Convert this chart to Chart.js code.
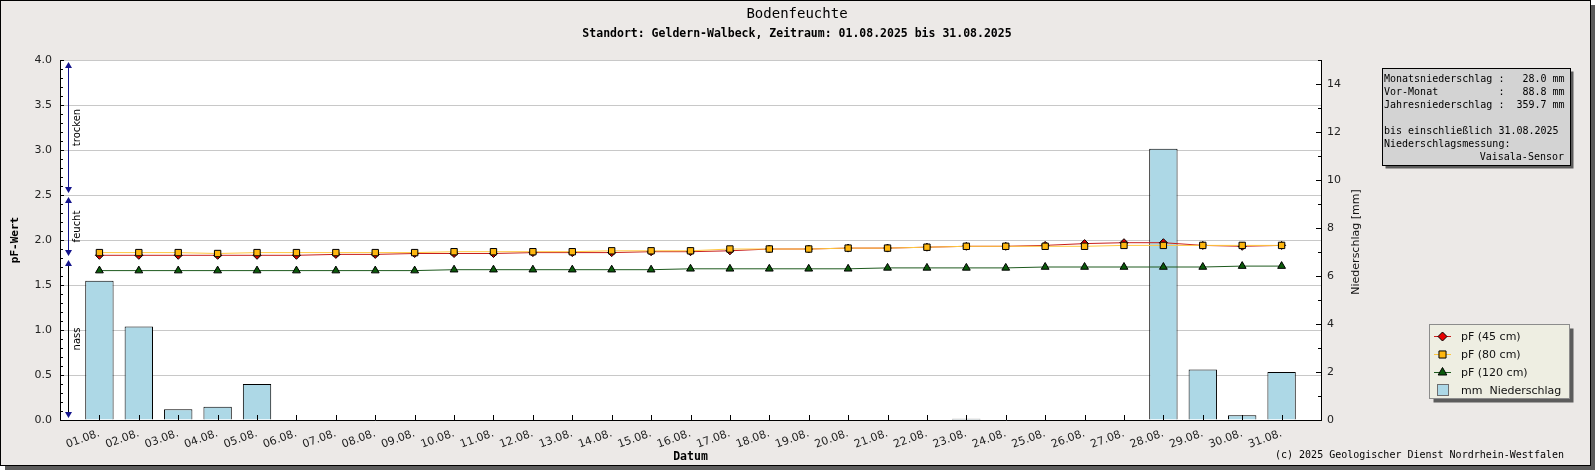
<!DOCTYPE html>
<html>
<head>
<meta charset="utf-8">
<title>Bodenfeuchte</title>
<script src="https://cdn.jsdelivr.net/npm/chart.js@4.4.1/dist/chart.umd.min.js"></script>
<style>
  html, body { margin: 0; padding: 0; background: #fff; }
</style>
</head>
<body>
<canvas id="bodenChart" width="1595" height="470"></canvas>
<script>
// Tage im August 2025
const days = ['01.08.', '02.08.', '03.08.', '04.08.', '05.08.', '06.08.', '07.08.', '08.08.',
  '09.08.', '10.08.', '11.08.', '12.08.', '13.08.', '14.08.', '15.08.', '16.08.', '17.08.',
  '18.08.', '19.08.', '20.08.', '21.08.', '22.08.', '23.08.', '24.08.', '25.08.', '26.08.',
  '27.08.', '28.08.', '29.08.', '30.08.', '31.08.'];

// pF-Werte je Tiefe
const pf45 = [1.83, 1.83, 1.83, 1.83, 1.83, 1.83, 1.84, 1.84, 1.85, 1.85, 1.85, 1.86, 1.86, 1.86,
  1.87, 1.87, 1.88, 1.90, 1.90, 1.91, 1.91, 1.92, 1.93, 1.93, 1.94, 1.96, 1.97, 1.97, 1.94, 1.93, 1.94];
const pf80 = [1.86, 1.86, 1.86, 1.85, 1.86, 1.86, 1.86, 1.86, 1.86, 1.87, 1.87, 1.87, 1.87, 1.88,
  1.88, 1.88, 1.90, 1.90, 1.90, 1.91, 1.91, 1.92, 1.93, 1.93, 1.93, 1.93, 1.94, 1.94, 1.94, 1.94, 1.94];
const pf120 = [1.66, 1.66, 1.66, 1.66, 1.66, 1.66, 1.66, 1.66, 1.66, 1.67, 1.67, 1.67, 1.67, 1.67,
  1.67, 1.68, 1.68, 1.68, 1.68, 1.68, 1.69, 1.69, 1.69, 1.69, 1.70, 1.70, 1.70, 1.70, 1.70, 1.71, 1.71];

// Tagesniederschlag in mm
const rain = [5.8, 3.9, 0.45, 0.55, 1.5, 0, 0, 0, 0, 0, 0, 0, 0, 0, 0, 0, 0, 0, 0, 0,
  0, 0, 0.05, 0, 0, 0, 0, 11.3, 2.1, 0.2, 2.0];

// Feuchtebereiche links an der Achse
const zones = [
  { label: 'trocken', from: 2.5, to: 4.0, line: '#14148c' },
  { label: 'feucht', from: 1.8, to: 2.5, line: '#14148c' },
  { label: 'nass', from: 0.0, to: 1.8, line: '#000000' }
];

const infoLines = [
  'Monatsniederschlag :   28.0 mm',
  'Vor-Monat          :   88.8 mm',
  'Jahresniederschlag :  359.7 mm',
  '',
  'bis einschließlich 31.08.2025',
  'Niederschlagsmessung:'
];
const infoLast = 'Vaisala-Sensor';

const pfMax = 4.0;
const rainMax = 15;

const MONO = '"DejaVu Sans Mono", monospace';
const SANS = '"DejaVu Sans", sans-serif';

// leere Kategorie vorn und hinten, damit der erste Tag einen vollen Abstand vom Rand hat
const labels = [''].concat(days, ['']);
const pad = arr => [null].concat(arr, [null]);

const decor = {
  id: 'decor',
  beforeDraw(chart) {
    const c = chart.ctx, a = chart.chartArea;
    c.save();
    c.fillStyle = '#ffffff';
    c.fillRect(0, 0, chart.width, chart.height);
    c.fillStyle = '#5c5c5c';
    c.fillRect(5, 5, 1590, 465);
    c.fillStyle = '#ece9e7';
    c.fillRect(0, 0, 1591, 466);
    c.strokeStyle = '#000';
    c.lineWidth = 1;
    c.strokeRect(0.5, 0.5, 1590, 465);
    c.fillStyle = '#ffffff';
    c.fillRect(a.left, a.top, a.right - a.left, a.bottom - a.top);
    c.restore();
  },
  afterDatasetsDraw(chart) {
    const c = chart.ctx, a = chart.chartArea;
    const x = chart.scales.x, y = chart.scales.y, y1 = chart.scales.y1;
    c.save();
    c.strokeStyle = '#000';
    c.lineWidth = 1;
    c.beginPath();
    days.forEach((d, i) => {
      const px = Math.round(x.getPixelForValue(i + 1)) + 0.5;
      c.moveTo(px, a.bottom);
      c.lineTo(px, a.bottom - 5);
    });
    for (let k = 0; k <= pfMax * 10; k++) {
      const py = Math.round(y.getPixelForValue(k / 10)) + 0.5;
      const len = k % 5 === 0 ? 4 : 3;
      c.moveTo(a.left, py);
      c.lineTo(a.left + len, py);
    }
    for (let k = 0; k <= rainMax; k++) {
      const py = Math.round(y1.getPixelForValue(k)) + 0.5;
      const len = k % 2 === 0 ? 5 : 3;
      c.moveTo(a.right, py);
      c.lineTo(a.right - len, py);
    }
    c.stroke();

    // Pfeile fuer die Feuchtebereiche
    const ax = a.left + 8.5;
    zones.forEach(z => {
      const yt = y.getPixelForValue(z.to) + 2;
      const yb = y.getPixelForValue(z.from) - 2;
      c.strokeStyle = z.line;
      c.beginPath();
      c.moveTo(ax, yt + 3);
      c.lineTo(ax, yb - 3);
      c.stroke();
      c.fillStyle = '#14148c';
      c.beginPath();
      c.moveTo(ax, yt); c.lineTo(ax - 3.5, yt + 6); c.lineTo(ax + 3.5, yt + 6); c.closePath();
      c.moveTo(ax, yb); c.lineTo(ax - 3.5, yb - 6); c.lineTo(ax + 3.5, yb - 6); c.closePath();
      c.fill();
      c.save();
      c.translate(ax + 8.5, (yt + yb) / 2);
      c.rotate(-Math.PI / 2);
      c.fillStyle = '#000';
      c.font = '10px ' + SANS;
      c.textAlign = 'center';
      c.textBaseline = 'middle';
      c.fillText(z.label, 0, 0);
      c.restore();
    });
    c.restore();
  },
  afterDraw(chart) {
    const c = chart.ctx, a = chart.chartArea;
    c.save();
    c.fillStyle = '#000';
    c.textBaseline = 'middle';

    // Titel
    c.textAlign = 'center';
    c.font = '14px ' + MONO;
    c.fillText('Bodenfeuchte', 797, 14);
    c.font = 'bold 11.5px ' + MONO;
    c.fillText('Standort: Geldern-Walbeck, Zeitraum: 01.08.2025 bis 31.08.2025', 797, 34);

    // Achsentitel
    c.fillText('Datum', (a.left + a.right) / 2, 457);
    c.save();
    c.translate(15, (a.top + a.bottom) / 2);
    c.rotate(-Math.PI / 2);
    c.font = 'bold 11px ' + MONO;
    c.fillText('pF-Wert', 0, 0);
    c.restore();
    c.save();
    c.translate(1356, 242);
    c.rotate(-Math.PI / 2);
    c.font = '11px ' + SANS;
    c.fillStyle = '#111';
    c.fillText('Niederschlag [mm]', 0, 0);
    c.restore();

    // Infobox
    const bx = 1382.5, by = 68.5, bw = 188, bh = 97;
    c.fillStyle = '#5c5c5c';
    c.fillRect(bx + 3, by + 3, bw, bh);
    c.fillStyle = '#d3d3d3';
    c.fillRect(bx, by, bw, bh);
    c.strokeStyle = '#000';
    c.strokeRect(bx, by, bw, bh);
    c.fillStyle = '#000';
    c.font = '10px ' + MONO;
    c.textAlign = 'left';
    infoLines.forEach((t, i) => c.fillText(t, 1384, 79.5 + i * 13));
    c.textAlign = 'right';
    c.fillText(infoLast, 1564, 79.5 + infoLines.length * 13);

    // Legende
    const lx = 1429.5, ly = 324.5, lw = 140, lh = 74;
    c.fillStyle = '#5c5c5c';
    c.fillRect(lx + 4, ly + 4, lw, lh);
    c.fillStyle = '#eeeee2';
    c.fillRect(lx, ly, lw, lh);
    c.strokeStyle = '#8c8c8c';
    c.strokeRect(lx, ly, lw, lh);
    c.font = '11px ' + SANS;
    c.textAlign = 'left';
    const order = [0, 1, 2, 3];
    order.forEach((di, row) => {
      const ds = chart.data.datasets[di];
      const ry = 336 + row * 18;
      if (ds.type === 'line') {
        c.strokeStyle = ds.borderColor;
        c.lineWidth = 1;
        c.beginPath();
        c.moveTo(1434, ry + 0.5);
        c.lineTo(1451, ry + 0.5);
        c.stroke();
        c.fillStyle = ds.pointBackgroundColor;
        c.strokeStyle = ds.pointBorderColor;
        Chart.helpers.drawPoint(c, { pointStyle: ds.pointStyle, radius: ds.pointRadius + 0.5, rotation: 0, borderWidth: 1 }, 1442.5, ry + 0.5);
      } else {
        c.fillStyle = ds.backgroundColor;
        c.fillRect(1437.5, ry - 5.5, 11, 11);
        c.strokeStyle = '#6e6e6e';
        c.strokeRect(1437.5, ry - 5.5, 11, 11);
      }
      c.fillStyle = '#111';
      c.fillText(ds.label, 1461, ry + 1);
    });

    // Quelle
    c.fillStyle = '#000';
    c.font = '10px ' + MONO;
    c.textAlign = 'left';
    c.fillText('(c) 2025 Geologischer Dienst Nordrhein-Westfalen', 1275, 455);
    c.restore();
  }
};

new Chart(document.getElementById('bodenChart').getContext('2d'), {
  type: 'bar',
  data: {
    labels: labels,
    datasets: [
      {
        type: 'line', label: 'pF (45 cm)', data: pad(pf45), yAxisID: 'y', order: 2,
        borderColor: '#c81e1e', borderWidth: 1, tension: 0,
        pointStyle: 'rectRot', pointRadius: 4, pointBackgroundColor: '#e60000',
        pointBorderColor: '#000', pointBorderWidth: 1
      },
      {
        type: 'line', label: 'pF (80 cm)', data: pad(pf80), yAxisID: 'y', order: 1,
        borderColor: '#ffc840', borderWidth: 1, tension: 0,
        pointStyle: 'rect', pointRadius: 4.5, pointBackgroundColor: '#ffb70f',
        pointBorderColor: '#000', pointBorderWidth: 1
      },
      {
        type: 'line', label: 'pF (120 cm)', data: pad(pf120), yAxisID: 'y', order: 3,
        borderColor: '#1e5a1e', borderWidth: 1, tension: 0,
        pointStyle: 'triangle', pointRadius: 4.5, pointBackgroundColor: '#0a5a0a',
        pointBorderColor: '#000', pointBorderWidth: 1
      },
      {
        type: 'bar', label: 'mm  Niederschlag', data: pad(rain.map(v => v || null)), yAxisID: 'y1', order: 4,
        backgroundColor: '#add8e6', borderColor: '#000', borderWidth: 1,
        categoryPercentage: 0.8, barPercentage: 0.9
      }
    ]
  },
  options: {
    responsive: false,
    animation: false,
    devicePixelRatio: 1,
    events: [],
    layout: { padding: { top: 60, left: 0, right: 0, bottom: 0 } },
    plugins: { legend: { display: false }, title: { display: false }, tooltip: { enabled: false } },
    scales: {
      x: {
        type: 'category',
        offset: false,
        grid: { drawOnChartArea: false, drawTicks: false },
        border: { display: true, color: '#000', width: 1 },
        ticks: {
          autoSkip: false, maxRotation: 20, minRotation: 20, padding: 7,
          color: '#222', font: { family: SANS, size: 11 }
        },
        afterFit: s => { s.height = 50; }
      },
      y: {
        type: 'linear', position: 'left', min: 0, max: pfMax,
        grid: { color: '#c8c8c8', drawTicks: false },
        border: { display: true, color: '#000', width: 1 },
        ticks: {
          stepSize: 0.5, padding: 8, color: '#222', font: { family: SANS, size: 11 },
          callback: v => v.toFixed(1)
        },
        afterFit: s => { s.width = 60; }
      },
      y1: {
        type: 'linear', position: 'right', min: 0, max: rainMax,
        grid: { drawOnChartArea: false, drawTicks: false },
        border: { display: true, color: '#000', width: 1 },
        ticks: {
          stepSize: 2, includeBounds: false, padding: 6, color: '#222',
          font: { family: SANS, size: 11 }
        },
        afterFit: s => { s.width = 274; }
      }
    }
  },
  plugins: [decor]
});
</script>
</body>
</html>
